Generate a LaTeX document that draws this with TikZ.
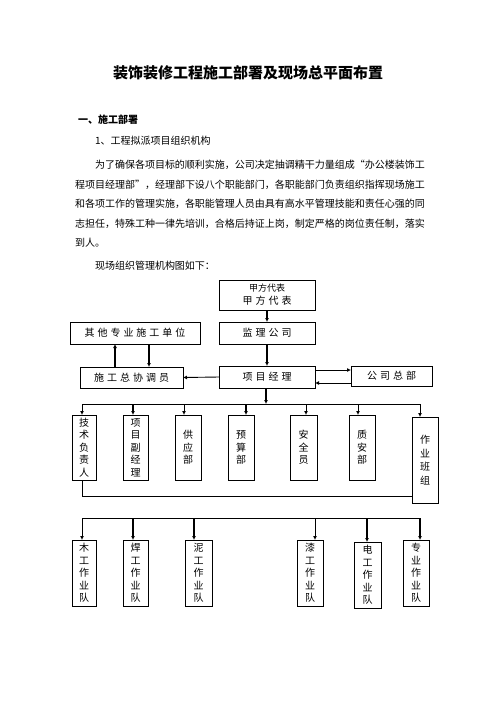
\documentclass[tikz,border=0pt]{standalone}
\usepackage{fontspec}
\newfontfamily\cjk{Noto Sans CJK SC}
\newfontfamily\cjkls{Noto Sans CJK SC}[LetterSpace=30]
\usetikzlibrary{arrows.meta}
\begin{document}
\begin{tikzpicture}[x=1pt,y=-1pt,
  every node/.style={font=\cjk\fontsize{10}{12}\selectfont, inner sep=0pt, outer sep=0pt},
  txt/.style={anchor=west},
  box/.style={draw, line width=0.7pt},
  hbox/.style={box, font=\cjkls\fontsize{10}{12}\selectfont},
  vbox/.style={box, align=center, font=\cjk\fontsize{10}{12.5}\selectfont},
  arr/.style={line width=1.4pt, -{Latex[length=4pt,width=4pt]}},
  thinarr/.style={line width=0.9pt, -{Latex[length=4pt,width=4pt]}},
  ln/.style={line width=0.7pt}]
\useasboundingbox (0,0) rectangle (496,702);
\fill[white] (0,0) rectangle (496,702);
% heading text
\node[font=\cjk\bfseries\fontsize{15}{18}\selectfont] (title) at (248,73) {装饰装修工程施工部署及现场总平面布置};
\node[txt, font=\cjk\bfseries\fontsize{10}{12}\selectfont] (h1) at (78,120) {一、施工部署};
\node[txt] (h2) at (95,141) {1、工程拟派项目组织机构};
\node[txt] (p1) at (95,165) {为了确保各项目标的顺利实施，公司决定抽调精干力量组成“办公楼装饰工};
\node[txt] (p2) at (75,185) {程项目经理部”，经理部下设八个职能部门，各职能部门负责组织指挥现场施工};
\node[txt] (p3) at (75,204) {和各项工作的管理实施，各职能管理人员由具有高水平管理技能和责任心强的同};
\node[txt] (p4) at (75,224) {志担任，特殊工种一律先培训，合格后持证上岗，制定严格的岗位责任制，落实};
\node[txt] (p5) at (75,243) {到人。};
\node[txt] (p6) at (95,266) {现场组织管理机构图如下：};
% top boxes
\node[box, minimum width=96pt, minimum height=30pt, align=center] (jf) at (267,295)
  {{\fontsize{9}{11}\selectfont 甲方代表}\\[1pt]{\cjkls\fontsize{10}{12}\selectfont 甲方代表}};
\node[hbox, minimum width=96pt, minimum height=22pt] (jl) at (267,333) {监理公司};
\node[hbox, minimum width=96pt, minimum height=22pt] (xm) at (267,377) {项目经理};
\node[hbox, minimum width=81pt, minimum height=20pt] (zb) at (391.5,376) {公司总部};
\node[hbox, minimum width=130pt, minimum height=22pt] (qt) at (135,333) {其他专业施工单位};
\node[hbox, minimum width=103pt, minimum height=21pt] (xt) at (131.5,377.5) {施工总协调员};
\draw[arr] (jf.south) -- (jl.north);
\draw[arr] (jl.south) -- (xm.north);
\draw[thinarr] (xm.west) -- (xt.east);
\coordinate (u1) at (115,0);
\coordinate (u2) at (149,0);
\draw[arr] (u1 |- xt.north) -- (u1 |- qt.south);
\draw[arr] (u2 |- qt.south) -- (u2 |- xt.north);
\coordinate (r1) at (0,370);
\coordinate (r2) at (0,383);
\draw[thinarr] (xm.east |- r1) -- (zb.west |- r1);
\draw[thinarr] (zb.west |- r2) -- (xm.east |- r2);
% first row
\node[vbox, minimum width=24pt, minimum height=65pt] (b1) at (84,447.5) {技\\术\\负\\责\\人};
\node[vbox, minimum width=25pt, minimum height=65pt] (b2) at (135.5,447.5) {项\\目\\副\\经\\理};
\node[vbox, minimum width=26pt, minimum height=65pt] (b3) at (188,447.5) {供\\应\\部};
\node[vbox, minimum width=26pt, minimum height=65pt] (b4) at (241,447.5) {预\\算\\部};
\node[vbox, minimum width=27pt, minimum height=65pt] (b5) at (303.5,447.5) {安\\全\\员};
\node[vbox, minimum width=26pt, minimum height=65pt] (b6) at (362,447.5) {质\\安\\部};
\node[vbox, minimum width=26pt, minimum height=86pt, font=\cjk\fontsize{10}{13.5}\selectfont] (b7) at (425,460) {作\\业\\班\\组};
\coordinate (busA) at (266,404);
\coordinate (a1) at (82,404);
\coordinate (a2) at (133,404);
\coordinate (a3) at (184,404);
\coordinate (a4) at (246,404);
\coordinate (a5) at (306,404);
\coordinate (a6) at (358,404);
\coordinate (a7) at (420,404);
\draw[arr] (xm.south -| busA) -- (busA);
\draw[ln] (a1) -- (a7);
\draw[thinarr] (a1) -- (a1 |- b1.north);
\draw[arr] (a2) -- (a2 |- b2.north);
\draw[thinarr] (a3) -- (a3 |- b3.north);
\draw[arr] (a4) -- (a4 |- b4.north);
\draw[thinarr] (a5) -- (a5 |- b5.north);
\draw[thinarr] (a6) -- (a6 |- b6.north);
\draw[thinarr] (a7) -- (a7 |- b7.north);
\coordinate (lk) at (412,496);
\draw[ln] (a1 |- b1.south) |- (lk);
% second row
\node[vbox, minimum width=24pt, minimum height=66pt] (c1) at (84,573) {木\\工\\作\\业\\队};
\node[vbox, minimum width=25pt, minimum height=66pt] (c2) at (135.5,573) {焊\\工\\作\\业\\队};
\node[vbox, minimum width=27pt, minimum height=66pt] (c3) at (198.5,573) {泥\\工\\作\\业\\队};
\node[vbox, minimum width=26pt, minimum height=66pt] (c4) at (310,573) {漆\\工\\作\\业\\队};
\node[vbox, minimum width=27pt, minimum height=66pt] (c5) at (367.5,575) {电\\工\\作\\业\\队};
\node[vbox, minimum width=26pt, minimum height=66pt] (c6) at (416,573) {专\\业\\作\\业\\队};
\coordinate (d1) at (82,518);
\coordinate (d2) at (133,518);
\coordinate (d3) at (194,518);
\coordinate (d4) at (315,518);
\coordinate (d5) at (367,518);
\coordinate (d6) at (420,518);
\draw[ln] (d1) -- (d6);
\draw[thinarr] (d1) -- (d1 |- c1.north);
\draw[arr] (d2) -- (d2 |- c2.north);
\draw[arr] (d3) -- (d3 |- c3.north);
\draw[thinarr] (d4) -- (d4 |- c4.north);
\draw[arr] (d5) -- (d5 |- c5.north);
\draw[arr] (d6) -- (d6 |- c6.north);
\end{tikzpicture}
\end{document}
